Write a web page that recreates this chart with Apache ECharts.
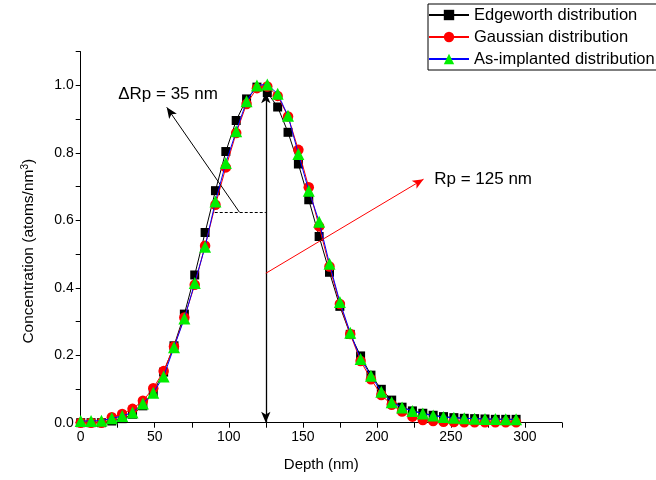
<!DOCTYPE html>
<html><head><meta charset="utf-8">
<script src="https://cdn.jsdelivr.net/npm/echarts@6/dist/echarts.min.js"></script>
<style>html,body{margin:0;padding:0;background:#fff}#c{width:656px;height:480px}</style>
</head><body><div id="c"></div>
<script>
// Depth positions (nm)
const depth = [0,7,14,21,28,35,42,49,56,63,70,77,84,91,98,105,112,119,126,133,140,147,154,161,168,175,182,189,196,203,210,217,224,231,238,245,252,259,266,273,280,287,294];
// Concentration (atoms/nm^3)
const edgeworth = [0.000,0.000,0.000,0.005,0.012,0.025,0.050,0.090,0.150,0.228,0.322,0.438,0.564,0.688,0.804,0.896,0.960,0.995,0.979,0.936,0.861,0.767,0.661,0.552,0.446,0.345,0.262,0.198,0.141,0.099,0.067,0.046,0.035,0.028,0.022,0.018,0.015,0.013,0.012,0.011,0.010,0.010,0.010];
const gaussian = [0.000,0.000,0.000,0.016,0.026,0.041,0.065,0.102,0.153,0.226,0.312,0.409,0.525,0.646,0.757,0.859,0.945,0.992,0.997,0.969,0.908,0.809,0.698,0.582,0.463,0.352,0.263,0.183,0.129,0.082,0.053,0.033,0.018,0.008,0.005,0.003,0.002,0.001,0.001,0.001,0.001,0.001,0.001];
const asImplanted = [0.005,0.005,0.006,0.013,0.020,0.030,0.057,0.089,0.137,0.224,0.309,0.414,0.522,0.656,0.770,0.864,0.953,1.000,1.003,0.975,0.910,0.797,0.688,0.596,0.471,0.358,0.267,0.189,0.139,0.092,0.061,0.045,0.035,0.027,0.021,0.017,0.015,0.013,0.012,0.011,0.011,0.010,0.010];
const seriesNames = ['Edgeworth distribution','Gaussian distribution','As-implanted distribution'];
// Annotations (data coordinates)
const rpArrow = [[125, 0.0], [125, 0.98]];
const dRpDash = [[90.5, 0.624], [125, 0.624]];
const dRpArrow = [[107.2, 0.624], [58.1, 0.935]];
const rpPointer = [[125, 0.443], [231.5, 0.722]];
const noteTexts = ['ΔRp = 35 nm', 'Rp = 125 nm'];
const noteAt = [[25.3, 0.975], [238.7, 0.722]];

const FONT = 'Liberation Sans, Arial, sans-serif';
const pairs = arr => depth.map((d, i) => [d, arr[i]]);

const chart = echarts.init(document.getElementById('c'), null, {renderer: 'canvas'});
chart.setOption({
  animation: false,
  textStyle: {fontFamily: FONT, color: '#000'},
  grid: {left: 80.7, right: 94, top: 51.7, bottom: 57.3},
  legend: {
    data: seriesNames,
    orient: 'vertical',
    left: 428, top: 4,
    padding: [2, 8, 2, 0],
    itemWidth: 40, itemHeight: 13, itemGap: 4,
    borderColor: '#000', borderWidth: 1, borderRadius: 0,
    backgroundColor: '#fff',
    textStyle: {fontSize: 16.5, fontFamily: FONT, color: '#000', lineHeight: 18}
  },
  xAxis: {
    type: 'value', min: 0, max: 325, interval: 25,
    name: 'Depth (nm)', nameLocation: 'middle', nameGap: 35,
    nameTextStyle: {fontSize: 15, fontFamily: FONT, color: '#000'},
    axisLine: {show: true, onZero: false, lineStyle: {color: '#000', width: 1}},
    axisTick: {show: true, inside: false, length: 5, lineStyle: {color: '#000'}},
    axisLabel: {fontSize: 14, color: '#000', fontFamily: FONT, margin: 7,
      formatter: v => (v % 50 === 0 ? String(v) : '')},
    splitLine: {show: false}
  },
  yAxis: {
    type: 'value', min: 0, max: 1.1, interval: 0.1,
    name: 'Concentration (atoms/nm{sup|3})', nameLocation: 'middle', nameGap: 43,
    nameTextStyle: {fontSize: 15.5, fontFamily: FONT, color: '#000', padding: [0, 28, 0, 0],
      rich: {sup: {fontSize: 10, verticalAlign: 'top', fontFamily: FONT, color: '#000', padding: [0,0,7,0]}}},
    axisLine: {show: true, onZero: false, lineStyle: {color: '#000', width: 1}},
    axisTick: {show: true, inside: false, length: 5, lineStyle: {color: '#000'}},
    axisLabel: {fontSize: 14, color: '#000', fontFamily: FONT, margin: 7,
      formatter: v => { const k = Math.round(v * 10); return (k % 2 === 0 && k <= 10) ? v.toFixed(1) : ''; }},
    splitLine: {show: false}
  },
  series: [
    {
      name: seriesNames[0], type: 'line', data: pairs(edgeworth),
      symbol: 'rect', symbolSize: 9, showAllSymbol: true,
      itemStyle: {color: '#000'}, lineStyle: {color: '#000', width: 1}, z: 2
    },
    {
      name: seriesNames[1], type: 'line', data: pairs(gaussian),
      symbol: 'circle', symbolSize: 10.5, showAllSymbol: true,
      itemStyle: {color: '#ff0000'}, lineStyle: {color: '#ff0000', width: 1}, z: 3
    },
    {
      name: seriesNames[2], type: 'line', data: pairs(asImplanted),
      symbol: 'triangle', symbolSize: 12, showAllSymbol: true,
      itemStyle: {color: '#00ee00'}, lineStyle: {color: '#0000ff', width: 1}, z: 4
    },
    {
      name: 'annotations', type: 'line', data: [], z: 5, silent: true,
      markLine: {
        silent: true, animation: false, symbolSize: [7, 11], precision: 4,
        label: {show: false},
        data: [
          [{coord: rpArrow[0], symbol: 'arrow', lineStyle: {color: '#000', width: 1.3, type: 'solid'}}, {coord: rpArrow[1], symbol: 'arrow'}],
          [{coord: dRpDash[0], symbol: 'none', lineStyle: {color: '#000', width: 1, type: [3, 2]}}, {coord: dRpDash[1], symbol: 'none'}],
          [{coord: dRpArrow[0], symbol: 'none', lineStyle: {color: '#000', width: 1, type: 'solid'}}, {coord: dRpArrow[1], symbol: 'arrow'}],
          [{coord: rpPointer[0], symbol: 'none', lineStyle: {color: '#ff0000', width: 1, type: 'solid'}, itemStyle: {color: '#ff0000'}}, {coord: rpPointer[1], symbol: 'arrow', itemStyle: {color: '#ff0000'}}]
        ]
      },
      markPoint: {
        silent: true, animation: false, symbol: 'circle', symbolSize: 0,
        label: {show: true, position: 'right', distance: 0, fontSize: 17, fontFamily: FONT, color: '#000',
          formatter: p => p.name},
        data: noteAt.map((c, i) => ({name: noteTexts[i], coord: c}))
      }
    }
  ]
});
</script></body></html>
